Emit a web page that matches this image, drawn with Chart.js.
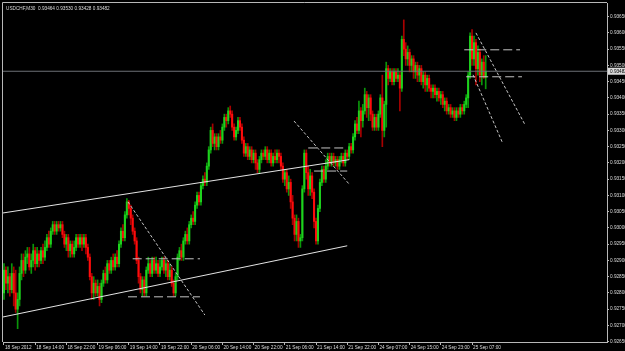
<!DOCTYPE html>
<html>
<head>
<meta charset="utf-8">
<script src="https://cdn.jsdelivr.net/npm/chart.js@4.4.0/dist/chart.umd.min.js"></script>
<style>
  html, body { margin: 0; padding: 0; background: #000; }
  #wrap { width: 625px; height: 351px; }
</style>
</head>
<body>
<div id="wrap"><canvas id="c" width="625" height="351"></canvas></div>
<script>
/* ── data: USDCHF M30, one entry per bar ─────────────────────────── */
const SYMBOL = "USDCHF,M30";
const LABEL_EVERY = 16; // bars between time labels
const TIME_LABELS = [
  "18 Sep 2012", "18 Sep 14:00", "18 Sep 22:00", "19 Sep 06:00", "19 Sep 14:00",
  "19 Sep 22:00", "20 Sep 06:00", "20 Sep 14:00", "20 Sep 22:00", "21 Sep 06:00",
  "21 Sep 14:00", "21 Sep 22:00", "24 Sep 07:00", "24 Sep 15:00", "24 Sep 23:00",
  "25 Sep 07:00",
];
const PRICE_TICKS = [
  0.9265, 0.9270, 0.9275, 0.9280, 0.9285, 0.9290, 0.9295, 0.9300, 0.9305, 0.9310, 0.9315,
  0.9320, 0.9325, 0.9330, 0.9335, 0.9340, 0.9345, 0.9350, 0.9355, 0.9360, 0.9365,
];
const Y_MIN = 0.92649, Y_MAX = 0.93692;
const X_MAX = 309.2; // chart is shifted: empty bars to the right

const OPEN = [
  0.9280,0.9287,0.9283,0.9285,0.9281,0.9286,0.9280,0.9275,0.9278,0.9286,
  0.9290,0.9287,0.9291,0.9292,0.9288,0.9290,0.9293,0.9289,0.9292,0.9290,
  0.9293,0.9291,0.9294,0.9297,0.9295,0.9299,0.9301,0.9299,0.9301,0.9300,
  0.9301,0.9298,0.9295,0.9297,0.9293,0.9295,0.9292,0.9294,0.9297,0.9295,
  0.9297,0.9295,0.9297,0.9294,0.9291,0.9285,0.9280,0.9283,0.9280,0.9282,
  0.9278,0.9283,0.9286,0.9284,0.9289,0.9287,0.9290,0.9288,0.9291,0.9289,
  0.9295,0.9299,0.9297,0.9304,0.9308,0.9306,0.9303,0.9299,0.9296,0.9290,
  0.9285,0.9281,0.9284,0.9280,0.9287,0.9289,0.9286,0.9290,0.9287,0.9289,
  0.9286,0.9288,0.9290,0.9287,0.9289,0.9285,0.9287,0.9283,0.9280,0.9285,
  0.9291,0.9293,0.9291,0.9296,0.9298,0.9296,0.9301,0.9303,0.9302,0.9307,
  0.9310,0.9308,0.9313,0.9315,0.9314,0.9319,0.9324,0.9330,0.9326,0.9328,
  0.9325,0.9328,0.9327,0.9331,0.9334,0.9333,0.9336,0.9335,0.9331,0.9328,
  0.9330,0.9333,0.9331,0.9327,0.9323,0.9325,0.9322,0.9324,0.9321,0.9323,
  0.9320,0.9318,0.9321,0.9323,0.9322,0.9324,0.9321,0.9323,0.9320,0.9322,
  0.9321,0.9323,0.9322,0.9319,0.9315,0.9317,0.9312,0.9314,0.9308,0.9303,
  0.9298,0.9302,0.9296,0.9297,0.9312,0.9323,0.9317,0.9312,0.9316,0.9311,
  0.9302,0.9296,0.9306,0.9314,0.9318,0.9315,0.9319,0.9322,0.9320,0.9322,
  0.9320,0.9321,0.9319,0.9321,0.9322,0.9320,0.9323,0.9322,0.9325,0.9324,
  0.9328,0.9332,0.9330,0.9336,0.9333,0.9336,0.9341,0.9337,0.9340,0.9335,
  0.9331,0.9334,0.9331,0.9335,0.9340,0.9330,0.9338,0.9349,0.9346,0.9348,
  0.9345,0.9348,0.9346,0.9347,0.9343,0.9358,0.9355,0.9352,0.9354,0.9350,
  0.9352,0.9348,0.9350,0.9347,0.9349,0.9345,0.9347,0.9344,0.9346,0.9343,
  0.9342,0.9343,0.9341,0.9342,0.9340,0.9341,0.9338,0.9339,0.9336,0.9337,
  0.9335,0.9336,0.9334,0.9336,0.9335,0.9337,0.9336,0.9338,0.9340,0.9347,
  0.9359,0.9352,0.9357,0.9349,0.9354,0.9347,0.9351,0.93464,
];
const HIGH = [
  0.9289,0.9288,0.9288,0.9286,0.9289,0.9288,0.9287,0.9280,0.9288,0.9292,
  0.9292,0.9293,0.9294,0.9294,0.9292,0.9295,0.9294,0.9294,0.9293,0.9294,
  0.9295,0.9296,0.9298,0.9299,0.9300,0.9302,0.9302,0.9302,0.9302,0.9302,
  0.9302,0.9299,0.9298,0.9298,0.9296,0.9296,0.9296,0.9298,0.9298,0.9298,
  0.9298,0.9298,0.9298,0.9295,0.9292,0.9286,0.9285,0.9284,0.9284,0.9283,
  0.9284,0.9287,0.9288,0.9290,0.9290,0.9291,0.9292,0.9292,0.9293,0.9296,
  0.9300,0.9301,0.9305,0.9309,0.93085,0.9307,0.9304,0.9300,0.9297,0.9291,
  0.9286,0.9285,0.9285,0.9288,0.9291,0.9290,0.9291,0.9291,0.9291,0.9290,
  0.9290,0.9291,0.9291,0.9290,0.9290,0.9289,0.9288,0.9284,0.9286,0.9292,
  0.9294,0.9295,0.9297,0.9299,0.9300,0.9302,0.9304,0.9305,0.9308,0.9311,
  0.9311,0.9314,0.9316,0.9317,0.9320,0.9325,0.9331,0.9332,0.9329,0.9329,
  0.9329,0.9330,0.9332,0.9335,0.9335,0.9337,0.93375,0.9336,0.9332,0.9331,
  0.9334,0.9334,0.9332,0.9328,0.9326,0.9326,0.9325,0.9325,0.9324,0.9324,
  0.9321,0.9322,0.9324,0.9324,0.9325,0.9325,0.9324,0.9324,0.9323,0.9324,
  0.9324,0.9324,0.9323,0.9320,0.9318,0.9318,0.9316,0.9315,0.9310,0.9304,
  0.9304,0.9303,0.9298,0.9313,0.9324,0.9324,0.9319,0.9318,0.9317,0.9312,
  0.9303,0.9307,0.9315,0.9319,0.9319,0.9321,0.9323,0.9323,0.9323,0.9323,
  0.9322,0.9322,0.9322,0.9323,0.9323,0.9324,0.9324,0.9326,0.9326,0.9329,
  0.9333,0.9334,0.9339,0.9337,0.9338,0.9343,0.9342,0.9341,0.9341,0.9336,
  0.9335,0.9335,0.9336,0.9341,0.9347,0.9339,0.9351,0.9350,0.9349,0.9349,
  0.9349,0.9349,0.9349,0.9348,0.9359,0.9364,0.9357,0.9356,0.9355,0.9353,
  0.9353,0.9351,0.9351,0.9350,0.9350,0.9348,0.9348,0.9347,0.9347,0.9344,
  0.9344,0.9344,0.9343,0.9343,0.9342,0.9342,0.9340,0.9340,0.9338,0.9338,
  0.9337,0.9337,0.9337,0.9337,0.9338,0.9338,0.9339,0.9341,0.9348,0.9360,
  0.9361,0.9359,0.9358,0.9356,0.9355,0.9352,0.9353,0.9353,
];
const LOW = [
  0.9278,0.9281,0.9280,0.9279,0.9280,0.9276,0.9274,0.9269,0.9276,0.9284,
  0.9285,0.9286,0.9289,0.9287,0.9286,0.9288,0.9287,0.9288,0.9288,0.9289,
  0.9289,0.9290,0.9293,0.9294,0.9294,0.9298,0.9298,0.9298,0.9299,0.9299,
  0.9297,0.9294,0.9293,0.9291,0.9291,0.9291,0.9291,0.9293,0.9294,0.9294,
  0.9293,0.9294,0.9292,0.9290,0.9284,0.9278,0.9278,0.9279,0.9279,0.9276,
  0.9277,0.9282,0.9283,0.9283,0.9286,0.9286,0.9287,0.9287,0.9288,0.9288,
  0.9294,0.9296,0.9296,0.9303,0.9304,0.9301,0.9298,0.9295,0.9289,0.9283,
  0.9280,0.9279,0.9279,0.9279,0.9286,0.9285,0.9285,0.9286,0.9286,0.9285,
  0.9285,0.9287,0.9286,0.9285,0.9284,0.9284,0.9282,0.9279,0.9279,0.9284,
  0.9290,0.9290,0.9290,0.9295,0.9295,0.9295,0.9300,0.9301,0.9301,0.9306,
  0.9307,0.9307,0.9312,0.9313,0.9313,0.9318,0.9323,0.9325,0.9324,0.9324,
  0.9324,0.9326,0.9326,0.9330,0.9331,0.9332,0.9334,0.9330,0.9327,0.9327,
  0.9329,0.9330,0.9326,0.9322,0.9322,0.9321,0.9321,0.9320,0.9320,0.9318,
  0.9317,0.9317,0.9320,0.9321,0.9321,0.9320,0.9320,0.9319,0.9319,0.9320,
  0.9320,0.9320,0.9318,0.9314,0.9313,0.9311,0.9310,0.9306,0.9301,0.9296,
  0.9296,0.9294,0.9294,0.9296,0.9311,0.9315,0.9310,0.9310,0.9309,0.9300,
  0.9295,0.9295,0.9305,0.9313,0.9314,0.9314,0.9318,0.9319,0.9319,0.9319,
  0.9319,0.9318,0.9318,0.9320,0.9319,0.9319,0.9321,0.9321,0.9323,0.9323,
  0.9327,0.9329,0.9329,0.9328,0.9331,0.9335,0.9334,0.9333,0.9333,0.9330,
  0.9330,0.9330,0.9330,0.9334,0.9325,0.9328,0.9331,0.9344,0.9345,0.9344,
  0.9344,0.9345,0.9345,0.9336,0.9342,0.9353,0.9350,0.9350,0.9348,0.9348,
  0.9346,0.9346,0.9345,0.9345,0.9344,0.9343,0.9342,0.9342,0.9342,0.9340,
  0.9340,0.9340,0.9339,0.9339,0.9338,0.9337,0.9336,0.9335,0.9335,0.9334,
  0.9334,0.9333,0.9333,0.9334,0.9334,0.9335,0.9335,0.9337,0.9337,0.9346,
  0.9350,0.9350,0.9344,0.9347,0.9345,0.9344,0.9346,0.93428,
];
const CLOSE = [
  0.9287,0.9283,0.9285,0.9281,0.9286,0.9280,0.9275,0.9278,0.9286,0.9290,
  0.9287,0.9291,0.9292,0.9288,0.9290,0.9293,0.9289,0.9292,0.9290,0.9293,
  0.9291,0.9294,0.9297,0.9295,0.9299,0.9301,0.9299,0.9301,0.9300,0.9301,
  0.9298,0.9295,0.9297,0.9293,0.9295,0.9292,0.9294,0.9297,0.9295,0.9297,
  0.9295,0.9297,0.9294,0.9291,0.9285,0.9280,0.9283,0.9280,0.9282,0.9278,
  0.9283,0.9286,0.9284,0.9289,0.9287,0.9290,0.9288,0.9291,0.9289,0.9295,
  0.9299,0.9297,0.9304,0.9308,0.9306,0.9303,0.9299,0.9296,0.9290,0.9285,
  0.9281,0.9284,0.9280,0.9287,0.9289,0.9286,0.9290,0.9287,0.9289,0.9286,
  0.9288,0.9290,0.9287,0.9289,0.9285,0.9287,0.9283,0.9280,0.9285,0.9291,
  0.9293,0.9291,0.9296,0.9298,0.9296,0.9301,0.9303,0.9302,0.9307,0.9310,
  0.9308,0.9313,0.9315,0.9314,0.9319,0.9324,0.9330,0.9326,0.9328,0.9325,
  0.9328,0.9327,0.9331,0.9334,0.9333,0.9336,0.9335,0.9331,0.9328,0.9330,
  0.9333,0.9331,0.9327,0.9323,0.9325,0.9322,0.9324,0.9321,0.9323,0.9320,
  0.9318,0.9321,0.9323,0.9322,0.9324,0.9321,0.9323,0.9320,0.9322,0.9321,
  0.9323,0.9322,0.9319,0.9315,0.9317,0.9312,0.9314,0.9308,0.9303,0.9298,
  0.9302,0.9296,0.9297,0.9312,0.9323,0.9317,0.9312,0.9316,0.9311,0.9302,
  0.9296,0.9306,0.9314,0.9318,0.9315,0.9319,0.9322,0.9320,0.9322,0.9320,
  0.9321,0.9319,0.9321,0.9322,0.9320,0.9323,0.9322,0.9325,0.9324,0.9328,
  0.9332,0.9330,0.9336,0.9333,0.9336,0.9341,0.9337,0.9340,0.9335,0.9331,
  0.9334,0.9331,0.9335,0.9340,0.9330,0.9338,0.9349,0.9346,0.9348,0.9345,
  0.9348,0.9346,0.9347,0.9343,0.9358,0.9355,0.9352,0.9354,0.9350,0.9352,
  0.9348,0.9350,0.9347,0.9349,0.9345,0.9347,0.9344,0.9346,0.9343,0.9342,
  0.9343,0.9341,0.9342,0.9340,0.9341,0.9338,0.9339,0.9336,0.9337,0.9335,
  0.9336,0.9334,0.9336,0.9335,0.9337,0.9336,0.9338,0.9340,0.9347,0.9359,
  0.9352,0.9357,0.9349,0.9354,0.9347,0.9351,0.93464,0.93482,
];

/* ── drawn objects, in (bar index, price) ────────────────────────── */
// trend channel: [x1, y1, x2, y2]
const CHANNEL_LINES = [
  [-0.5, 0.93046, 177, 0.93210],
  [-0.5, 0.92726, 176, 0.92945],
];
// horizontal levels: [x1, x2, price]
const LEVELS = [
  [66, 100.5, 0.92905],
  [63.6, 100.5, 0.92788],
  [156, 176, 0.93246],
  [159, 176, 0.93175],
  [236, 264.6, 0.93548],
  [237, 265.6, 0.93465],
];
// falling diagonals: [x1, y1, x2, y2]
const DIAGONALS = [
  [63.6, 0.93080, 103, 0.92732],
  [148.7, 0.93329, 177.4, 0.93132],
  [242, 0.93600, 267.2, 0.93317],
  [240.5, 0.93471, 255.4, 0.93265],
];

/* ── look ────────────────────────────────────────────────────────── */
const UP = "#1ed21e", UP_WICK = "#0a960a";
const DOWN = "#ff0c0c", DOWN_WICK = "#a80000";
const TEXT = "#dcdcdc", FRAME = "#b8b8b8";
const FONT = "'Liberation Sans', Arial, sans-serif";
const FS = 4.7;

const last = CLOSE.length - 1;
const isUp = (i) => CLOSE[i] >= OPEN[i];
const idx = CLOSE.map((_, i) => i);

const seg = (pts, color, dash, width = 1) => ({
  type: "line",
  data: pts,
  borderColor: color,
  borderWidth: width,
  borderDash: dash,
  pointRadius: 0,
  fill: false,
  tension: 0,
  order: 0,
});

const lineSets = [
  ...CHANNEL_LINES.map(([x1, y1, x2, y2]) => seg([{ x: x1, y: y1 }, { x: x2, y: y2 }], "#e4e4e4", [])),
  ...LEVELS.map(([x1, x2, p]) => seg([{ x: x1, y: p }, { x: x2, y: p }], "#c4c4c4", [9, 4])),
  ...DIAGONALS.map(([x1, y1, x2, y2]) => seg([{ x: x1, y: y1 }, { x: x2, y: y2 }], "#c4c4c4", [3, 2])),
  // bid line
  seg([{ x: -0.5, y: CLOSE[last] }, { x: X_MAX, y: CLOSE[last] }], "#6c7076", [], 1),
];

/* ── frame, title and bid label ──────────────────────────────────── */
const mtFrame = {
  id: "mtFrame",
  beforeDraw(chart) {
    const { ctx, width, height } = chart;
    ctx.save();
    ctx.fillStyle = "#000";
    ctx.fillRect(0, 0, width, height);
    ctx.restore();
  },
  afterDraw(chart) {
    const { ctx, chartArea: a, scales: { y } } = chart;
    ctx.save();
    ctx.strokeStyle = FRAME;
    ctx.lineWidth = 1;
    ctx.beginPath();
    ctx.moveTo(a.left - 0.5, a.bottom);
    ctx.lineTo(a.left - 0.5, a.top - 0.5);
    ctx.lineTo(a.right, a.top - 0.5);
    ctx.stroke();

    ctx.font = `${FS}px ${FONT}`;
    ctx.fillStyle = TEXT;
    ctx.textBaseline = "top";
    const f = (v) => v.toFixed(5);
    ctx.fillText(`${SYMBOL}  ${f(OPEN[last])} ${f(HIGH[last])} ${f(LOW[last])} ${f(CLOSE[last])}`, a.left + 3, a.top + 3);

    const py = y.getPixelForValue(CLOSE[last]);
    ctx.fillStyle = "#d8d8d8";
    ctx.fillRect(a.right + 1, py - 3.5, 20, 7);
    ctx.fillStyle = "#000";
    ctx.textBaseline = "middle";
    ctx.fillText(f(CLOSE[last]), a.right + 3, py + 0.5);
    ctx.restore();
  },
};

Chart.defaults.font.family = FONT;
Chart.defaults.font.size = FS;

new Chart(document.getElementById("c"), {
  type: "bar",
  data: {
    datasets: [
      {
        label: "range",
        data: idx.map((i) => ({ x: i, y: [LOW[i], HIGH[i]] })),
        backgroundColor: (c) => (isUp(c.dataIndex) ? UP_WICK : DOWN_WICK),
        barThickness: 1,
        grouped: false,
        borderWidth: 0,
        order: 2,
      },
      {
        label: "body",
        data: idx.map((i) => ({ x: i, y: [OPEN[i], CLOSE[i]] })),
        backgroundColor: (c) => (isUp(c.dataIndex) ? UP : DOWN),
        barThickness: 1.4,
        grouped: false,
        borderWidth: 0,
        order: 1,
      },
      ...lineSets,
    ],
  },
  options: {
    responsive: false,
    animation: false,
    devicePixelRatio: 1,
    events: [],
    layout: { padding: { left: 3, top: 3, right: 0, bottom: 0 } },
    plugins: { legend: { display: false }, tooltip: { enabled: false } },
    scales: {
      x: {
        type: "linear",
        min: -0.5,
        max: X_MAX,
        offset: false,
        afterBuildTicks: (s) => { s.ticks = TIME_LABELS.map((_, k) => ({ value: k * LABEL_EVERY })); },
        afterFit: (s) => { s.height = 9; s.paddingLeft = 0; s.paddingRight = 0; },
        ticks: {
          autoSkip: false, maxRotation: 0, minRotation: 0,
          align: "start", padding: 0, labelOffset: 1,
          color: TEXT, font: { size: FS },
          callback: (v, k) => TIME_LABELS[k],
        },
        grid: { drawOnChartArea: false, tickLength: 3, color: FRAME, offset: false },
        border: { color: FRAME, width: 1 },
      },
      y: {
        position: "right",
        min: Y_MIN,
        max: Y_MAX,
        afterBuildTicks: (s) => { s.ticks = PRICE_TICKS.map((v) => ({ value: v })); },
        afterFit: (s) => { s.width = 18; s.paddingTop = 0; s.paddingBottom = 0; },
        ticks: {
          autoSkip: false, padding: 1,
          color: TEXT, font: { size: FS },
          callback: (v) => v.toFixed(5),
        },
        grid: { drawOnChartArea: false, tickLength: 2, color: FRAME },
        border: { color: FRAME, width: 1 },
      },
    },
  },
  plugins: [mtFrame],
});
</script>
</body>
</html>
